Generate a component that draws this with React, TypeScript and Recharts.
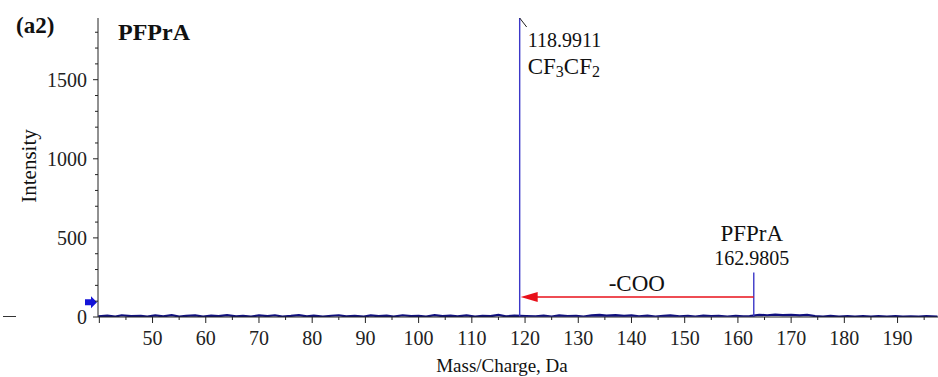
import React from "react";
import { LineChart, Line, XAxis, YAxis, ReferenceDot, ReferenceLine } from "recharts";

// stick peaks (m/z, intensity)
const peakMz = [118.9911, 162.9805];
const peakIntensity = [1890, 281];

// baseline noise, [m/z, intensity]
const noise: [number, number][] = [
  [39.8, 4], [41.5, 9], [43, 3], [44.2, 11], [46, 5], [47.8, 8], [49, 2], [50.5, 10],
  [52, 4], [53.6, 12], [55, 3], [56.3, 7], [58, 10], [59.5, 3], [61, 9], [62.4, 5],
  [64, 12], [65.7, 4], [67, 8], [68.5, 3], [70, 10], [71.6, 6], [73, 11], [74.4, 3],
  [76, 7], [77.5, 12], [79, 4], [80.3, 9], [82, 3], [83.6, 8], [85, 11], [86.4, 4],
  [88, 7], [89.7, 2], [91, 10], [92.5, 5], [94, 9], [95.3, 3], [97, 11], [98.6, 6],
  [100, 8], [101.4, 3], [103, 12], [104.5, 5], [106, 9], [107.3, 4], [109, 10], [110.6, 3],
  [112, 8], [113.5, 5], [115, 13], [116.4, 4], [118, 9], [120.2, 6], [122, 4], [123.5, 9],
  [125, 3], [126.4, 10], [128, 5], [129.6, 8], [131, 3], [132.5, 11], [134, 13], [135.3, 9],
  [137, 12], [138.6, 7], [140, 11], [141.4, 4], [143, 9], [144.5, 3], [146, 7], [147.3, 10],
  [149, 4], [150.6, 8], [152, 2], [153.5, 9], [155, 5], [156.4, 8], [158, 3], [159.6, 7],
  [161, 4], [162.2, 6], [164, 14], [165.5, 11], [167, 15], [168.4, 12], [170, 14], [171.6, 10],
  [173, 13], [174.5, 6], [176, 3], [177.4, 7], [179, 2], [180.6, 5], [182, 3], [183.5, 6],
  [185, 2], [186.4, 5], [188, 3], [189.6, 6], [191, 2], [192.5, 4], [194, 2], [195.4, 5], [197.5, 3],
];

const xTicks = [40, 45, 50, 55, 60, 65, 70, 75, 80, 85, 90, 95, 100, 105, 110, 115, 120, 125, 130, 135, 140, 145, 150, 155, 160, 165, 170, 175, 180, 185, 190, 195];
const yTicks = [0, 100, 200, 300, 400, 500, 600, 700, 800, 900, 1000, 1100, 1200, 1300, 1400, 1500, 1600, 1700, 1800];

const SERIF = "'Liberation Serif', Tinos, 'DejaVu Serif', serif";
const AXIS = "#222";

const noiseData = noise.map(([mz, i]) => ({ mz, i }));
const stickData = peakMz.flatMap((mz, k) => [
  { mz, i: 0 },
  { mz, i: peakIntensity[k] },
  { mz, i: 0 },
]);

const XTick = (props: any) => {
  const { x, y, payload } = props;
  const v = payload.value;
  const major = v % 10 === 0;
  return (
    <g>
      <line x1={x} x2={x} y1={y} y2={y + (major ? 6 : 3)} stroke={AXIS} />
      {major && v >= 50 && (
        <text x={x} y={y + 28} textAnchor="middle" fontSize={20} fill="#222" style={{ fontFamily: SERIF }}>
          {v}
        </text>
      )}
    </g>
  );
};

const YTick = (props: any) => {
  const { x, y, payload } = props;
  const v = payload.value;
  const major = v % 500 === 0;
  return (
    <g>
      <line x1={x} x2={x - (major ? 5 : 3)} y1={y} y2={y} stroke={AXIS} />
      {major && (
        <text x={x - 11} y={y + 7} textAnchor="end" fontSize={20} fill="#222" style={{ fontFamily: SERIF }}>
          {v}
        </text>
      )}
    </g>
  );
};

export default function App() {
  return (
    <div style={{ position: "absolute", left: 0, top: 0, width: 938, height: 377, background: "#fff", fontFamily: SERIF }}>
      <LineChart width={938} height={377} margin={{ top: 18, right: 0, left: 0, bottom: 0 }}>
        <XAxis
          type="number"
          dataKey="mz"
          domain={[39.75, 197.6]}
          ticks={xTicks}
          interval={0}
          allowDataOverflow
          height={60}
          tickSize={0}
          tickMargin={0}
          tickLine={false}
          tick={<XTick />}
          axisLine={{ stroke: AXIS }}
        />
        <YAxis
          type="number"
          domain={[0, 1890]}
          ticks={yTicks}
          interval={0}
          allowDataOverflow
          width={98}
          tickSize={0}
          tickMargin={0}
          tickLine={false}
          tick={<YTick />}
          axisLine={{ stroke: AXIS }}
        />
        <Line data={noiseData} dataKey="i" stroke="#10107e" strokeWidth={2.2} dot={false} isAnimationActive={false} />
        <Line data={stickData} dataKey="i" stroke="#3c38c8" strokeWidth={1.4} dot={false} isAnimationActive={false} />

        {/* -COO neutral loss arrow */}
        <ReferenceLine
          segment={[{ x: peakMz[1], y: 127 }, { x: 121, y: 127 }]}
          stroke="#e8101a"
          strokeWidth={1.5}
        />
        <ReferenceDot
          x={peakMz[0]}
          y={127}
          r={0}
          shape={(p: any) => (
            <polygon
              points={`${p.cx + 1},${p.cy} ${p.cx + 18},${p.cy - 5} ${p.cx + 18},${p.cy + 5}`}
              fill="#e8101a"
            />
          )}
        />
        <ReferenceDot
          x={141}
          y={127}
          r={0}
          shape={(p: any) => (
            <text x={p.cx} y={p.cy - 6} textAnchor="middle" fontSize={23} fill="#111" style={{ fontFamily: SERIF }}>
              -COO
            </text>
          )}
        />

        {/* fragment label */}
        <ReferenceDot
          x={peakMz[0]}
          y={peakIntensity[0]}
          r={0}
          ifOverflow="visible"
          shape={(p: any) => (
            <g style={{ fontFamily: SERIF }} fill="#111">
              <line x1={p.cx} y1={p.cy} x2={p.cx + 7} y2={p.cy + 9} stroke="#222" />
              <text x={p.cx + 8} y={p.cy + 29} fontSize={20}>118.9911</text>
              <text x={p.cx + 8} y={p.cy + 56} fontSize={23}>
                CF<tspan fontSize={16} dy={3}>3</tspan>
                <tspan dy={-3}>CF</tspan>
                <tspan fontSize={16} dy={3}>2</tspan>
              </text>
            </g>
          )}
        />

        {/* precursor label */}
        <ReferenceDot
          x={peakMz[1]}
          y={peakIntensity[1]}
          r={0}
          shape={(p: any) => (
            <g style={{ fontFamily: SERIF }} fill="#111" textAnchor="middle">
              <text x={p.cx - 2} y={p.cy - 32} fontSize={23}>PFPrA</text>
              <text x={p.cx - 2} y={p.cy - 8} fontSize={20}>162.9805</text>
            </g>
          )}
        />

        {/* precursor marker on the y axis */}
        <ReferenceDot
          x={39.75}
          y={94}
          r={0}
          ifOverflow="visible"
          shape={(p: any) => (
            <polygon
              points={`${p.cx - 1},${p.cy} ${p.cx - 7},${p.cy - 6} ${p.cx - 7},${p.cy - 3} ${p.cx - 13},${p.cy - 3} ${p.cx - 13},${p.cy + 3} ${p.cx - 7},${p.cy + 3} ${p.cx - 7},${p.cy + 6}`}
              fill="#1414d8"
            />
          )}
        />
      </LineChart>

      <svg width={938} height={377} style={{ position: "absolute", left: 0, top: 0, pointerEvents: "none", fontFamily: SERIF }}>
        <g fill="#111">
          <text x={16} y={33} fontSize={23} fontWeight="bold">(a2)</text>
          <text x={118} y={40} fontSize={24} fontWeight="bold">PFPrA</text>
          <text x={502} y={372} fontSize={19} textAnchor="middle">Mass/Charge, Da</text>
          <text x={36} y={166} fontSize={21} textAnchor="middle" transform="rotate(-90 36 166)">Intensity</text>
        </g>
        <line x1={3} x2={16} y1={316.5} y2={316.5} stroke="#333" strokeWidth={1} />
      </svg>
    </div>
  );
}
